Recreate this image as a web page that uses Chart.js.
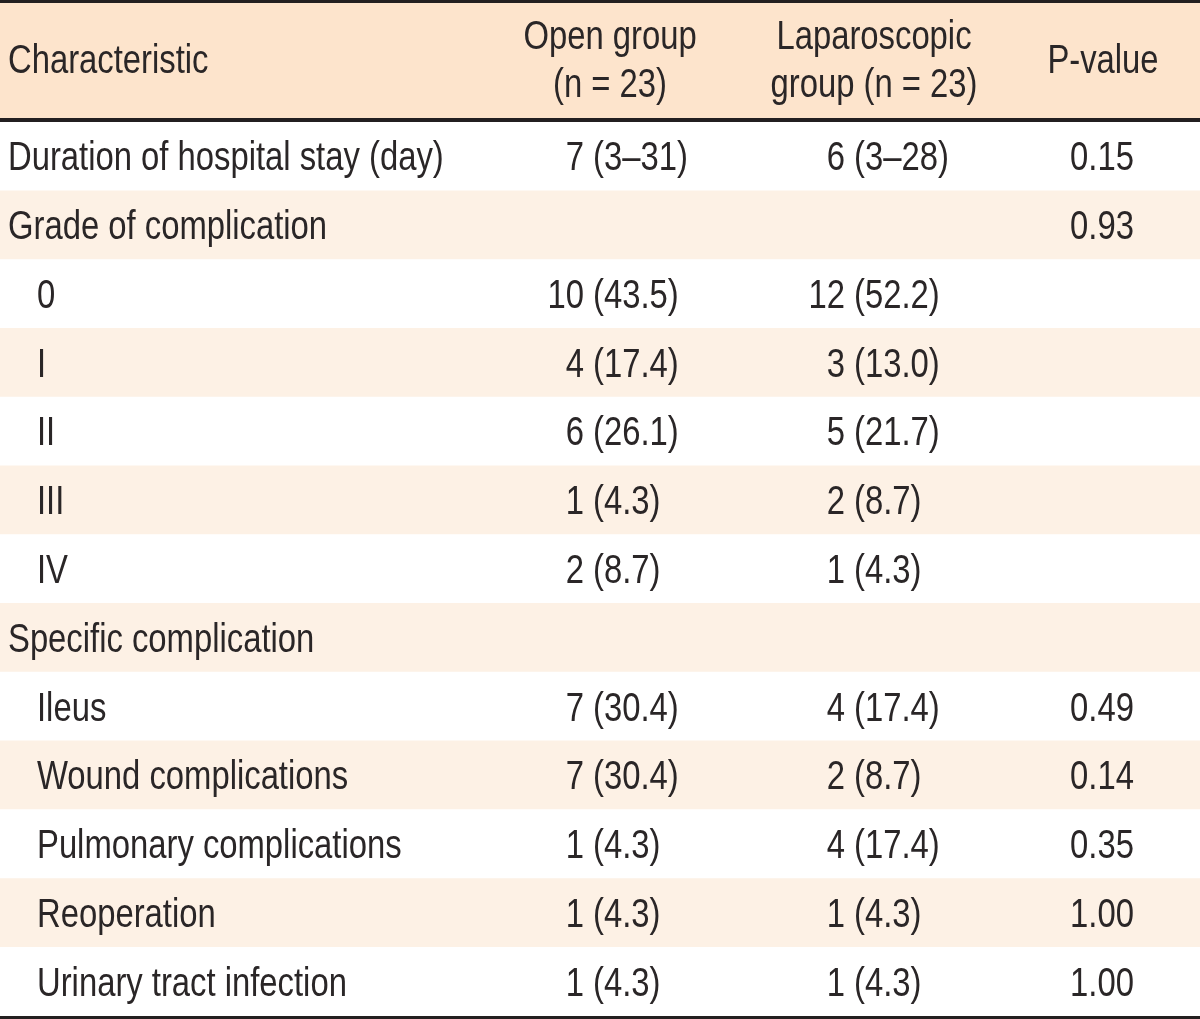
<!DOCTYPE html>
<html>
<head>
<meta charset="utf-8">
<script src="https://cdn.jsdelivr.net/npm/chart.js@4.4.1/dist/chart.umd.min.js"></script>
<style>
  html, body { margin: 0; padding: 0; background: #ffffff; }
  #wrap { position: relative; width: 1200px; height: 1019px; }
</style>
</head>
<body>
<div id="wrap"><canvas id="c"></canvas></div>
<script>
// ---- data ----
const headerCols = ["Characteristic", ["Open group", "(n = 23)"], ["Laparoscopic", "group (n = 23)"], "P-value"];
const rowLabels = [
  "Duration of hospital stay (day)", "Grade of complication",
  "0", "I", "II", "III", "IV",
  "Specific complication",
  "Ileus", "Wound complications", "Pulmonary complications", "Reoperation", "Urinary tract infection"
];
const rowIndent = [0, 0, 1, 1, 1, 1, 1, 0, 1, 1, 1, 1, 1];
const openGroup = ["7 (3–31)", "", "10 (43.5)", "4 (17.4)", "6 (26.1)", "1 (4.3)", "2 (8.7)", "", "7 (30.4)", "7 (30.4)", "1 (4.3)", "1 (4.3)", "1 (4.3)"];
const lapGroup  = ["6 (3–28)", "", "12 (52.2)", "3 (13.0)", "5 (21.7)", "2 (8.7)", "1 (4.3)", "", "4 (17.4)", "2 (8.7)", "4 (17.4)", "1 (4.3)", "1 (4.3)"];
const pValues   = ["0.15", "0.93", "", "", "", "", "", "", "0.49", "0.14", "0.35", "1.00", "1.00"];
const rowShaded = [false, true, false, true, false, true, false, true, false, true, false, true, false];

// ---- styles ----
const HEADER_BG = "#fde4cc";
const SHADE_BG = "#fdf1e5";
const INK = "#2a2627";
const FONT_PX = 40;

// font detection: use a real narrow font if installed, else scale Liberation Sans horizontally
function fontAvailable(name) {
  const c = document.createElement("canvas").getContext("2d");
  const s = "abcdefghijklmnopqrstuvwxyz0123456789";
  c.font = "40px monospace";
  const w1 = c.measureText(s).width;
  c.font = '40px "' + name + '", monospace';
  const w2 = c.measureText(s).width;
  return Math.abs(w1 - w2) > 1;
}
let FONT_FAMILY, XSCALE;
if (fontAvailable("Liberation Sans Narrow")) { FONT_FAMILY = '"Liberation Sans Narrow"'; XSCALE = 1; }
else { FONT_FAMILY = '"Liberation Sans", Arial, sans-serif'; XSCALE = 0.82; }

function drawText(ctx, txt, x, y, align) {
  ctx.save();
  ctx.font = FONT_PX + "px " + FONT_FAMILY;
  ctx.fillStyle = INK;
  ctx.textBaseline = "alphabetic";
  const w = ctx.measureText(txt).width * XSCALE;
  let left = x;
  if (align === "center") left = x - w / 2;
  else if (align === "right") left = x - w;
  ctx.translate(left, y);
  ctx.scale(XSCALE, 1);
  ctx.textAlign = "left";
  ctx.fillText(txt, 0, 0);
  ctx.restore();
}
function textWidth(ctx, txt) {
  ctx.save();
  ctx.font = FONT_PX + "px " + FONT_FAMILY;
  const w = ctx.measureText(txt).width * XSCALE;
  ctx.restore();
  return w;
}
// values aligned on the opening parenthesis
function drawParenAligned(ctx, txt, parenX, y) {
  if (!txt) return;
  const i = txt.indexOf("(");
  const pre = i >= 0 ? txt.slice(0, i) : txt;
  drawText(ctx, txt, parenX - textWidth(ctx, pre), y, "left");
}

const tablePlugin = {
  id: "tablePlugin",
  beforeDatasetsDraw(chart) {
    const ctx = chart.ctx, a = chart.chartArea;
    ctx.save();
    ctx.fillStyle = HEADER_BG;
    ctx.fillRect(0, 0, chart.width, a.top);
    ctx.restore();
  },
  afterDraw(chart) {
    const ctx = chart.ctx, a = chart.chartArea;
    const ys = chart.scales.y;
    const capHalf = 14;
    // header
    const hMid = a.top / 2 - 2;
    drawText(ctx, headerCols[0], 8, hMid + capHalf, "left");
    drawText(ctx, headerCols[1][0], 610, 35 + capHalf, "center");
    drawText(ctx, headerCols[1][1], 610, 83 + capHalf, "center");
    drawText(ctx, headerCols[2][0], 874, 35 + capHalf, "center");
    drawText(ctx, headerCols[2][1], 874, 83 + capHalf, "center");
    drawText(ctx, headerCols[3], 1103, hMid + capHalf, "center");
    // body
    rowLabels.forEach((lab, i) => {
      const y = ys.getPixelForValue(i) + capHalf;
      drawText(ctx, lab, rowIndent[i] ? 37 : 8, y, "left");
      drawParenAligned(ctx, openGroup[i], 593, y);
      drawParenAligned(ctx, lapGroup[i], 854, y);
      if (pValues[i]) drawText(ctx, pValues[i], 1102, y, "center");
    });
    // rules
    ctx.save();
    ctx.fillStyle = "#231f20";
    ctx.fillRect(0, 0, chart.width, 3);
    ctx.fillRect(0, a.top - 4, chart.width, 4);
    ctx.fillRect(0, a.bottom, chart.width, chart.height - a.bottom);
    ctx.restore();
  }
};

new Chart(document.getElementById("c"), {
  type: "bar",
  data: {
    labels: rowLabels,
    datasets: [{
      data: rowLabels.map(() => [0, 1]),
      backgroundColor: rowShaded.map(s => s ? SHADE_BG : "#ffffff"),
      borderWidth: 0,
      barPercentage: 1.0,
      categoryPercentage: 1.0
    }]
  },
  options: {
    indexAxis: "y",
    responsive: true,
    maintainAspectRatio: false,
    animation: false,
    events: [],
    layout: { padding: { top: 122, bottom: 3, left: 0, right: 0 } },
    plugins: { legend: { display: false }, tooltip: { enabled: false } },
    scales: {
      x: { type: "linear", min: 0, max: 1, display: false },
      y: { type: "category", display: false, offset: true, grid: { display: false } }
    }
  },
  plugins: [tablePlugin]
});
</script>
</body>
</html>
